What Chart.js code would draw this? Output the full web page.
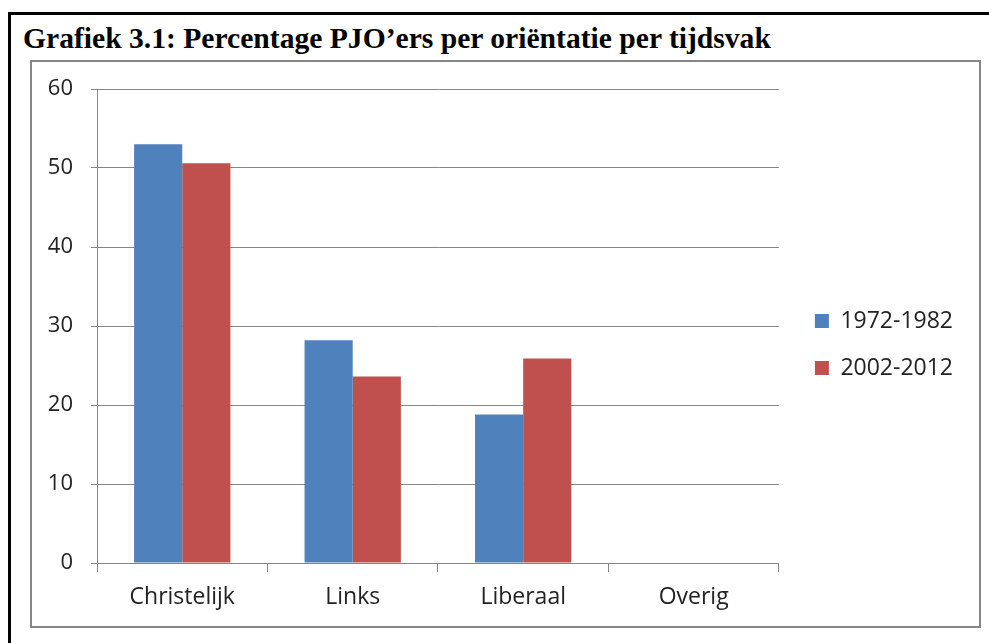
<!DOCTYPE html>
<html>
<head>
<meta charset="utf-8">
<script src="https://cdn.jsdelivr.net/npm/chart.js@4"></script>
<style>
  body { margin: 0; background: #fff; width: 989px; height: 643px; overflow: hidden; position: relative; }
  #frame { position: absolute; left: 8px; top: 12px; width: 1100px; height: 800px; border: 3px solid #000; }
  #title { position: absolute; left: 23px; top: 22px; font: bold 29.6px "Liberation Serif", serif; color: #000; white-space: nowrap; }
  #box { position: absolute; left: 30px; top: 60px; width: 947px; height: 564px; border: 2px solid #868686; }
  #box canvas { position: absolute; left: 0; top: 0; }
</style>
</head>
<body>
<div id="frame"></div>
<div id="title">Grafiek 3.1: Percentage PJO’ers per oriëntatie per tijdsvak</div>
<div id="box"><canvas id="chart" width="947" height="564"></canvas></div>
<script>
const categories = ["Christelijk", "Links", "Liberaal", "Overig"];
const series1972 = [53, 28.2, 18.8, 0];
const series2002 = [50.6, 23.6, 25.9, 0];
const yTicks = [0, 10, 20, 30, 40, 50, 60];

const gridGray = "#868686";
const labelFont = { family: "'Open Sans'", size: 22 };

// nudge the legend into place (Chart.js uses one padding for both directions)
const legendOffset = {
  id: "legendOffset",
  afterLayout(chart) {
    const lg = chart.legend;
    lg.left += 12; lg.right += 12;
    lg.top -= 13; lg.bottom -= 13;
  }
};

const ctx = document.getElementById("chart").getContext("2d");
const chart = new Chart(ctx, {
  type: "bar",
  data: {
    labels: categories,
    datasets: [
      { label: "1972-1982", data: series1972, backgroundColor: "#4F81BD" },
      { label: "2002-2012", data: series2002, backgroundColor: "#C0504D" }
    ]
  },
  options: {
    responsive: false,
    animation: false,
    layout: { padding: { top: 27, left: 0, right: 28, bottom: 0 } },
    datasets: { bar: { categoryPercentage: 0.565, barPercentage: 1 } },
    plugins: {
      tooltip: { enabled: false },
      legend: {
        position: "right",
        labels: {
          boxWidth: 14, boxHeight: 14, padding: 24,
          color: "#222",
          font: { family: "'Open Sans'", size: 23 }
        }
      }
    },
    scales: {
      x: {
        afterFit: (s) => { s.height = 63; },
        grid: { offset: true, drawOnChartArea: false, color: gridGray, tickLength: 9, tickColor: gridGray },
        border: { color: gridGray, width: 1 },
        ticks: { color: "#222", font: { family: "'Open Sans'", size: 23 }, padding: 12 }
      },
      y: {
        min: 0, max: 60,
        afterFit: (s) => { s.width = 65; s.paddingTop = 0; s.paddingBottom = 0; },
        afterBuildTicks: (s) => { s.ticks = yTicks.map(v => ({ value: v })); },
        grid: { color: gridGray, tickLength: 6, tickColor: gridGray },
        border: { color: gridGray, width: 1 },
        ticks: { color: "#222", font: labelFont, padding: 18 }
      }
    }
  },
  plugins: [legendOffset]
});
</script>
</body>
</html>
